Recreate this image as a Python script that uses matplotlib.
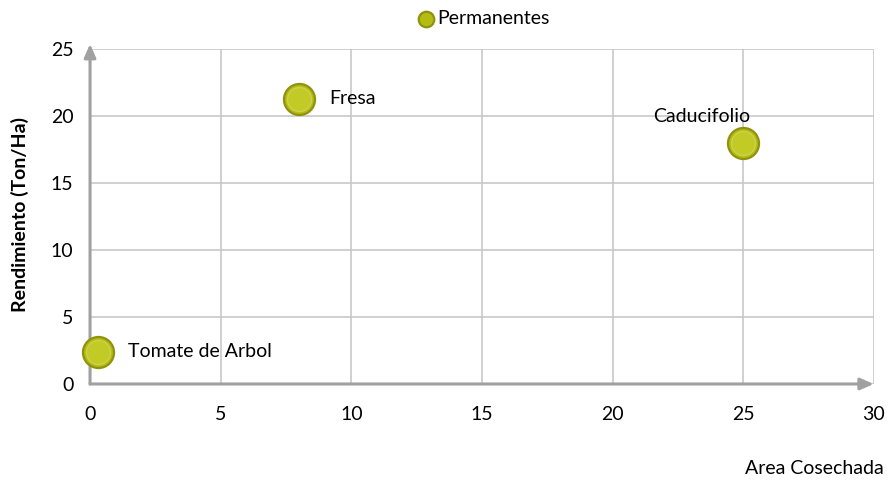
import numpy as np
import matplotlib.pyplot as plt

# data
names = ['Tomate de Arbol', 'Fresa', 'Caducifolio']
area = [0.3, 8.0, 25.0]
rendimiento = [2.4, 21.3, 18.0]

xticks = [0, 5, 10, 15, 20, 25, 30]
yticks = [0, 5, 10, 15, 20, 25]

plt.rcParams['font.family'] = ['Lato', 'DejaVu Sans']

fig = plt.figure(figsize=(8.88, 4.83), dpi=100)
ax = fig.add_axes([0.1014, 0.205, 0.8826, 0.6936])

ax.scatter(area, rendimiento, s=500, color='#b4bc14', edgecolor='#8f920c',
           linewidth=1.6, zorder=4, clip_on=False, label='Permanentes')
ax.scatter(area, rendimiento, s=300, color='#c2ca26', edgecolor='#ccd24e',
           linewidth=1.0, zorder=5, clip_on=False)

# point labels
ax.annotate(names[0], (area[0], rendimiento[0]), xytext=(22, 0), textcoords='offset points',
            ha='left', va='center', fontsize=14)
ax.annotate(names[1], (area[1], rendimiento[1]), xytext=(22, 0), textcoords='offset points',
            ha='left', va='center', fontsize=14)
ax.annotate(names[2], (area[2], rendimiento[2]), xytext=(-30, 19), textcoords='offset points',
            ha='center', va='center', fontsize=14)

ax.set_xlim(0, 30)
ax.set_ylim(0, 25)
ax.set_xticks(xticks)
ax.set_yticks(yticks)
ax.grid(True, color='#c8c8c8', linewidth=1.2)
ax.set_axisbelow(True)
ax.tick_params(length=0, labelsize=14, pad=12)
ax.tick_params(axis='x', pad=16)

for s in ax.spines.values():
    s.set_visible(False)

# axes with arrows
ax.annotate('', xy=(0, 1.015), xytext=(0, 0), xycoords='axes fraction',
            arrowprops=dict(arrowstyle='-|>,head_length=0.8,head_width=0.35',
                            color='#a0a0a0', lw=2.2, shrinkA=0, shrinkB=0), zorder=3)
ax.annotate('', xy=(1.0, 0), xytext=(0, 0), xycoords='axes fraction',
            arrowprops=dict(arrowstyle='-|>,head_length=0.8,head_width=0.35',
                            color='#a0a0a0', lw=2.2, shrinkA=0, shrinkB=0), zorder=3)

fig.text(0.022, 0.555, 'Rendimiento (Ton/Ha)', rotation=90, ha='center', va='center',
         fontsize=14, fontweight='bold')
fig.text(0.995, 0.03, 'Area Cosechada', ha='right', va='center', fontsize=14)

leg = fig.legend(loc='center', bbox_to_anchor=(0.545, 0.962), frameon=False, fontsize=14,
                 markerscale=0.5, handlelength=0.8, handletextpad=0.2)

plt.savefig('out.png', dpi=100)
